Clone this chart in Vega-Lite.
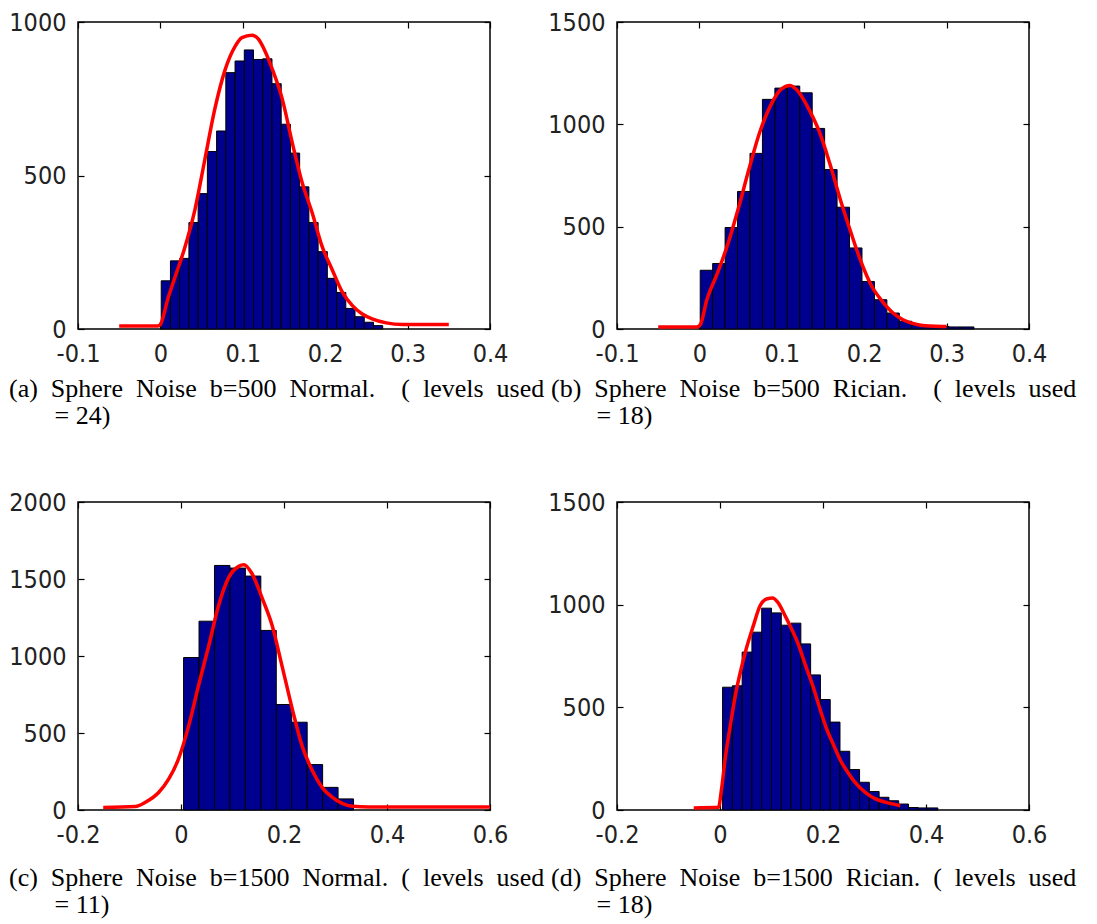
{
  "$schema": "https://vega.github.io/schema/vega-lite/v6.json",
  "background": "white",
  "padding": {"left": 8, "top": 9, "right": 2, "bottom": 2},
  "config": {
    "view": {"stroke": "black", "strokeWidth": 1.5},
    "axis": {
      "domain": false, "grid": false, "ticks": true, "tickColor": "black", "tickWidth": 1.2, "tickSize": -6,
      "labelFont": "DejaVu Sans Condensed, Liberation Sans Narrow, Liberation Sans, sans-serif", "labelFontSize": 25, "labelColor": "#222",
      "labelPadding": 18, "title": null, "labelOverlap": false, "labelFlush": false
    },
    "title": {"font": "Liberation Serif", "fontSize": 26, "fontWeight": "normal", "color": "black", "lineHeight": 27, "orient": "bottom", "anchor": "start", "frame": "group", "dx": -69, "offset": 10}
  },
  "datasets": {
    "a_bars": [
      {"x0":0.0010,"x1":0.0122,"n":157},{"x0":0.0122,"x1":0.0234,"n":222},{"x0":0.0234,"x1":0.0346,"n":230},{"x0":0.0346,"x1":0.0458,"n":347},
      {"x0":0.0458,"x1":0.0570,"n":441},{"x0":0.0570,"x1":0.0682,"n":578},{"x0":0.0682,"x1":0.0794,"n":645},{"x0":0.0794,"x1":0.0906,"n":835},
      {"x0":0.0906,"x1":0.1018,"n":873},{"x0":0.1018,"x1":0.1130,"n":909},{"x0":0.1130,"x1":0.1242,"n":878},{"x0":0.1242,"x1":0.1354,"n":880},
      {"x0":0.1354,"x1":0.1466,"n":799},{"x0":0.1466,"x1":0.1578,"n":667},{"x0":0.1578,"x1":0.1690,"n":573},{"x0":0.1690,"x1":0.1802,"n":463},
      {"x0":0.1802,"x1":0.1914,"n":347},{"x0":0.1914,"x1":0.2026,"n":252},{"x0":0.2026,"x1":0.2138,"n":165},{"x0":0.2138,"x1":0.2250,"n":119},
      {"x0":0.2250,"x1":0.2362,"n":67},{"x0":0.2362,"x1":0.2474,"n":40},{"x0":0.2474,"x1":0.2586,"n":22},{"x0":0.2586,"x1":0.2698,"n":11}
    ],
    "a_fit": [
      {"x":-0.05,"y":10},{"x":-0.003,"y":10},{"x":0.0,"y":15},{"x":0.009,"y":98},{"x":0.017,"y":163},{"x":0.029,"y":260},
      {"x":0.042,"y":390},{"x":0.054,"y":553},{"x":0.066,"y":716},{"x":0.078,"y":840},{"x":0.091,"y":922},{"x":0.099,"y":949},
      {"x":0.111,"y":957},{"x":0.119,"y":944},{"x":0.127,"y":905},{"x":0.136,"y":845},{"x":0.148,"y":748},{"x":0.160,"y":607},
      {"x":0.172,"y":477},{"x":0.184,"y":380},{"x":0.196,"y":271},{"x":0.209,"y":190},{"x":0.221,"y":119},{"x":0.233,"y":76},
      {"x":0.245,"y":49},{"x":0.257,"y":33},{"x":0.274,"y":20},{"x":0.294,"y":15},{"x":0.35,"y":15}
    ],
    "b_bars": [
      {"x0":0.0010,"x1":0.0161,"n":287},{"x0":0.0161,"x1":0.0312,"n":320},{"x0":0.0312,"x1":0.0463,"n":496},{"x0":0.0463,"x1":0.0614,"n":672},
      {"x0":0.0614,"x1":0.0765,"n":858},{"x0":0.0765,"x1":0.0916,"n":1122},{"x0":0.0916,"x1":0.1067,"n":1177},{"x0":0.1067,"x1":0.1218,"n":1187},
      {"x0":0.1218,"x1":0.1369,"n":1154},{"x0":0.1369,"x1":0.1520,"n":980},{"x0":0.1520,"x1":0.1671,"n":779},{"x0":0.1671,"x1":0.1822,"n":595},
      {"x0":0.1822,"x1":0.1973,"n":396},{"x0":0.1973,"x1":0.2124,"n":232},{"x0":0.2124,"x1":0.2275,"n":143},{"x0":0.2275,"x1":0.2426,"n":78},
      {"x0":0.2426,"x1":0.2577,"n":38},{"x0":0.2577,"x1":0.2728,"n":21},{"x0":0.2728,"x1":0.2879,"n":15},{"x0":0.2879,"x1":0.3030,"n":12},
      {"x0":0.3030,"x1":0.3181,"n":10},{"x0":0.3181,"x1":0.3332,"n":10}
    ],
    "b_fit": [
      {"x":-0.05,"y":10},{"x":-0.003,"y":10},{"x":0.001,"y":20},{"x":0.009,"y":143},{"x":0.022,"y":274},{"x":0.035,"y":421},
      {"x":0.048,"y":600},{"x":0.060,"y":779},{"x":0.073,"y":959},{"x":0.086,"y":1089},{"x":0.099,"y":1171},{"x":0.110,"y":1190},
      {"x":0.120,"y":1160},{"x":0.133,"y":1073},{"x":0.146,"y":959},{"x":0.158,"y":812},{"x":0.171,"y":633},{"x":0.184,"y":470},
      {"x":0.196,"y":330},{"x":0.209,"y":210},{"x":0.222,"y":135},{"x":0.235,"y":78},{"x":0.247,"y":45},{"x":0.264,"y":22},
      {"x":0.286,"y":13},{"x":0.300,"y":12}
    ],
    "c_bars": [
      {"x0":0.005,"x1":0.035,"n":990},{"x0":0.035,"x1":0.065,"n":1226},{"x0":0.065,"x1":0.095,"n":1588},{"x0":0.095,"x1":0.125,"n":1571},
      {"x0":0.125,"x1":0.155,"n":1519},{"x0":0.155,"x1":0.185,"n":1166},{"x0":0.185,"x1":0.215,"n":685},{"x0":0.215,"x1":0.245,"n":570},
      {"x0":0.245,"x1":0.275,"n":295},{"x0":0.275,"x1":0.305,"n":147},{"x0":0.305,"x1":0.335,"n":72}
    ],
    "c_fit": [
      {"x":-0.151,"y":17},{"x":-0.089,"y":22},{"x":-0.069,"y":50},{"x":-0.043,"y":115},{"x":-0.024,"y":200},{"x":-0.005,"y":330},
      {"x":0.015,"y":548},{"x":0.034,"y":808},{"x":0.054,"y":1068},{"x":0.073,"y":1328},{"x":0.093,"y":1512},{"x":0.112,"y":1582},
      {"x":0.122,"y":1593},{"x":0.138,"y":1534},{"x":0.158,"y":1372},{"x":0.177,"y":1198},{"x":0.196,"y":938},{"x":0.216,"y":657},
      {"x":0.235,"y":418},{"x":0.255,"y":256},{"x":0.274,"y":147},{"x":0.294,"y":82},{"x":0.313,"y":43},{"x":0.333,"y":24},
      {"x":0.365,"y":20},{"x":0.6,"y":20}
    ],
    "d_bars": [
      {"x0":0.005,"x1":0.024,"n":598},{"x0":0.024,"x1":0.043,"n":605},{"x0":0.043,"x1":0.062,"n":769},{"x0":0.062,"x1":0.081,"n":866},
      {"x0":0.081,"x1":0.100,"n":983},{"x0":0.100,"x1":0.119,"n":960},{"x0":0.119,"x1":0.138,"n":900},{"x0":0.138,"x1":0.157,"n":910},
      {"x0":0.157,"x1":0.176,"n":809},{"x0":0.176,"x1":0.195,"n":658},{"x0":0.195,"x1":0.214,"n":538},{"x0":0.214,"x1":0.233,"n":428},
      {"x0":0.233,"x1":0.252,"n":286},{"x0":0.252,"x1":0.271,"n":197},{"x0":0.271,"x1":0.290,"n":135},{"x0":0.290,"x1":0.309,"n":90},
      {"x0":0.309,"x1":0.328,"n":62},{"x0":0.328,"x1":0.347,"n":45},{"x0":0.347,"x1":0.366,"n":29},{"x0":0.366,"x1":0.385,"n":12},
      {"x0":0.385,"x1":0.404,"n":10},{"x0":0.404,"x1":0.423,"n":10}
    ],
    "d_fit": [
      {"x":-0.051,"y":10},{"x":-0.003,"y":13},{"x":0.003,"y":102},{"x":0.010,"y":249},{"x":0.020,"y":411},{"x":0.031,"y":574},
      {"x":0.041,"y":687},{"x":0.051,"y":785},{"x":0.065,"y":899},{"x":0.078,"y":996},{"x":0.092,"y":1029},{"x":0.102,"y":1032},
      {"x":0.112,"y":1012},{"x":0.126,"y":948},{"x":0.139,"y":882},{"x":0.153,"y":801},{"x":0.166,"y":704},{"x":0.180,"y":606},
      {"x":0.194,"y":493},{"x":0.207,"y":395},{"x":0.221,"y":314},{"x":0.234,"y":241},{"x":0.248,"y":184},{"x":0.261,"y":138},
      {"x":0.282,"y":86},{"x":0.302,"y":54},{"x":0.323,"y":37},{"x":0.350,"y":21}
    ]
  },
  "columns": 2,
  "spacing": {"row": 173, "column": 127},
  "bounds": "flush",
  "concat": [
    {
      "width": 412, "height": 307,
      "title": {"text": ["(a)\u2002Sphere\u2002Noise\u2002b=500\u2002Normal.\u2002\u2002(\u2002levels\u2002used", "\u200b\u2007\u2007\u2007\u00a0= 24)"]},
      "resolve": {"axis": {"x": "independent", "y": "independent"}},
      "layer": [
        {"data": {"name": "a_bars"}, "mark": {"type": "bar", "fill": "#00008F", "stroke": "black", "strokeWidth": 1},
         "encoding": {
           "x": {"field": "x0", "type": "quantitative", "scale": {"domain": [-0.1, 0.4], "nice": false, "zero": false},
                 "axis": {"orient": "bottom", "values": [-0.1, 0, 0.1, 0.2, 0.3, 0.4], "labelExpr": "datum.value < 0 ? '-' + format(-datum.value, '.1f') : (datum.value == 0 ? '0' : format(datum.value, '.1f'))"}},
           "x2": {"field": "x1"},
           "y": {"field": "n", "type": "quantitative", "scale": {"domain": [0, 1000], "nice": false},
                 "axis": {"orient": "left", "values": [0, 500, 1000], "format": "d"}},
           "y2": {"datum": 0}
         }},
        {"data": {"name": "a_fit"}, "mark": {"type": "line", "color": "#FF0000", "strokeWidth": 3.5, "interpolate": "monotone"},
         "encoding": {
           "x": {"field": "x", "type": "quantitative", "axis": {"orient": "top", "labels": false, "values": [-0.1, 0, 0.1, 0.2, 0.3, 0.4]}},
           "y": {"field": "y", "type": "quantitative", "axis": {"orient": "right", "labels": false, "values": [0, 500, 1000]}}
         }}
      ]
    },
    {
      "width": 412, "height": 307,
      "title": {"text": ["(b)\u2002Sphere\u2002Noise\u2002b=500\u2002Rician.\u2002\u2002(\u2002levels\u2002used", "\u200b\u2007\u2007\u2007\u00a0= 18)"], "dx": -66},
      "resolve": {"axis": {"x": "independent", "y": "independent"}},
      "layer": [
        {"data": {"name": "b_bars"}, "mark": {"type": "bar", "fill": "#00008F", "stroke": "black", "strokeWidth": 1},
         "encoding": {
           "x": {"field": "x0", "type": "quantitative", "scale": {"domain": [-0.1, 0.4], "nice": false, "zero": false},
                 "axis": {"orient": "bottom", "values": [-0.1, 0, 0.1, 0.2, 0.3, 0.4], "labelExpr": "datum.value < 0 ? '-' + format(-datum.value, '.1f') : (datum.value == 0 ? '0' : format(datum.value, '.1f'))"}},
           "x2": {"field": "x1"},
           "y": {"field": "n", "type": "quantitative", "scale": {"domain": [0, 1500], "nice": false},
                 "axis": {"orient": "left", "values": [0, 500, 1000, 1500], "format": "d"}},
           "y2": {"datum": 0}
         }},
        {"data": {"name": "b_fit"}, "mark": {"type": "line", "color": "#FF0000", "strokeWidth": 3.5, "interpolate": "monotone"},
         "encoding": {
           "x": {"field": "x", "type": "quantitative", "axis": {"orient": "top", "labels": false, "values": [-0.1, 0, 0.1, 0.2, 0.3, 0.4]}},
           "y": {"field": "y", "type": "quantitative", "axis": {"orient": "right", "labels": false, "values": [0, 500, 1000, 1500]}}
         }}
      ]
    },
    {
      "width": 412, "height": 308,
      "title": {"text": ["(c)\u2002Sphere\u2002Noise\u2002b=1500\u2002Normal.\u2002(\u2002levels\u2002used", "\u200b\u2007\u2007\u2007\u00a0= 11)"], "offset": 18},
      "resolve": {"axis": {"x": "independent", "y": "independent"}},
      "layer": [
        {"data": {"name": "c_bars"}, "mark": {"type": "bar", "fill": "#00008F", "stroke": "black", "strokeWidth": 1},
         "encoding": {
           "x": {"field": "x0", "type": "quantitative", "scale": {"domain": [-0.2, 0.6], "nice": false, "zero": false},
                 "axis": {"orient": "bottom", "values": [-0.2, 0, 0.2, 0.4, 0.6], "labelExpr": "datum.value < 0 ? '-' + format(-datum.value, '.1f') : (datum.value == 0 ? '0' : format(datum.value, '.1f'))"}},
           "x2": {"field": "x1"},
           "y": {"field": "n", "type": "quantitative", "scale": {"domain": [0, 2000], "nice": false},
                 "axis": {"orient": "left", "values": [0, 500, 1000, 1500, 2000], "format": "d"}},
           "y2": {"datum": 0}
         }},
        {"data": {"name": "c_fit"}, "mark": {"type": "line", "color": "#FF0000", "strokeWidth": 3.5, "interpolate": "monotone"},
         "encoding": {
           "x": {"field": "x", "type": "quantitative", "axis": {"orient": "top", "labels": false, "values": [-0.2, 0, 0.2, 0.4, 0.6]}},
           "y": {"field": "y", "type": "quantitative", "axis": {"orient": "right", "labels": false, "values": [0, 500, 1000, 1500, 2000]}}
         }}
      ]
    },
    {
      "width": 412, "height": 308,
      "title": {"text": ["(d)\u2002Sphere\u2002Noise\u2002b=1500\u2002Rician.\u2002(\u2002levels\u2002used", "\u200b\u2007\u2007\u2007\u00a0= 18)"], "dx": -66, "offset": 18},
      "resolve": {"axis": {"x": "independent", "y": "independent"}},
      "layer": [
        {"data": {"name": "d_bars"}, "mark": {"type": "bar", "fill": "#00008F", "stroke": "black", "strokeWidth": 1},
         "encoding": {
           "x": {"field": "x0", "type": "quantitative", "scale": {"domain": [-0.2, 0.6], "nice": false, "zero": false},
                 "axis": {"orient": "bottom", "values": [-0.2, 0, 0.2, 0.4, 0.6], "labelExpr": "datum.value < 0 ? '-' + format(-datum.value, '.1f') : (datum.value == 0 ? '0' : format(datum.value, '.1f'))"}},
           "x2": {"field": "x1"},
           "y": {"field": "n", "type": "quantitative", "scale": {"domain": [0, 1500], "nice": false},
                 "axis": {"orient": "left", "values": [0, 500, 1000, 1500], "format": "d"}},
           "y2": {"datum": 0}
         }},
        {"data": {"name": "d_fit"}, "mark": {"type": "line", "color": "#FF0000", "strokeWidth": 3.5, "interpolate": "monotone"},
         "encoding": {
           "x": {"field": "x", "type": "quantitative", "axis": {"orient": "top", "labels": false, "values": [-0.2, 0, 0.2, 0.4, 0.6]}},
           "y": {"field": "y", "type": "quantitative", "axis": {"orient": "right", "labels": false, "values": [0, 500, 1000, 1500]}}
         }}
      ]
    }
  ]
}
